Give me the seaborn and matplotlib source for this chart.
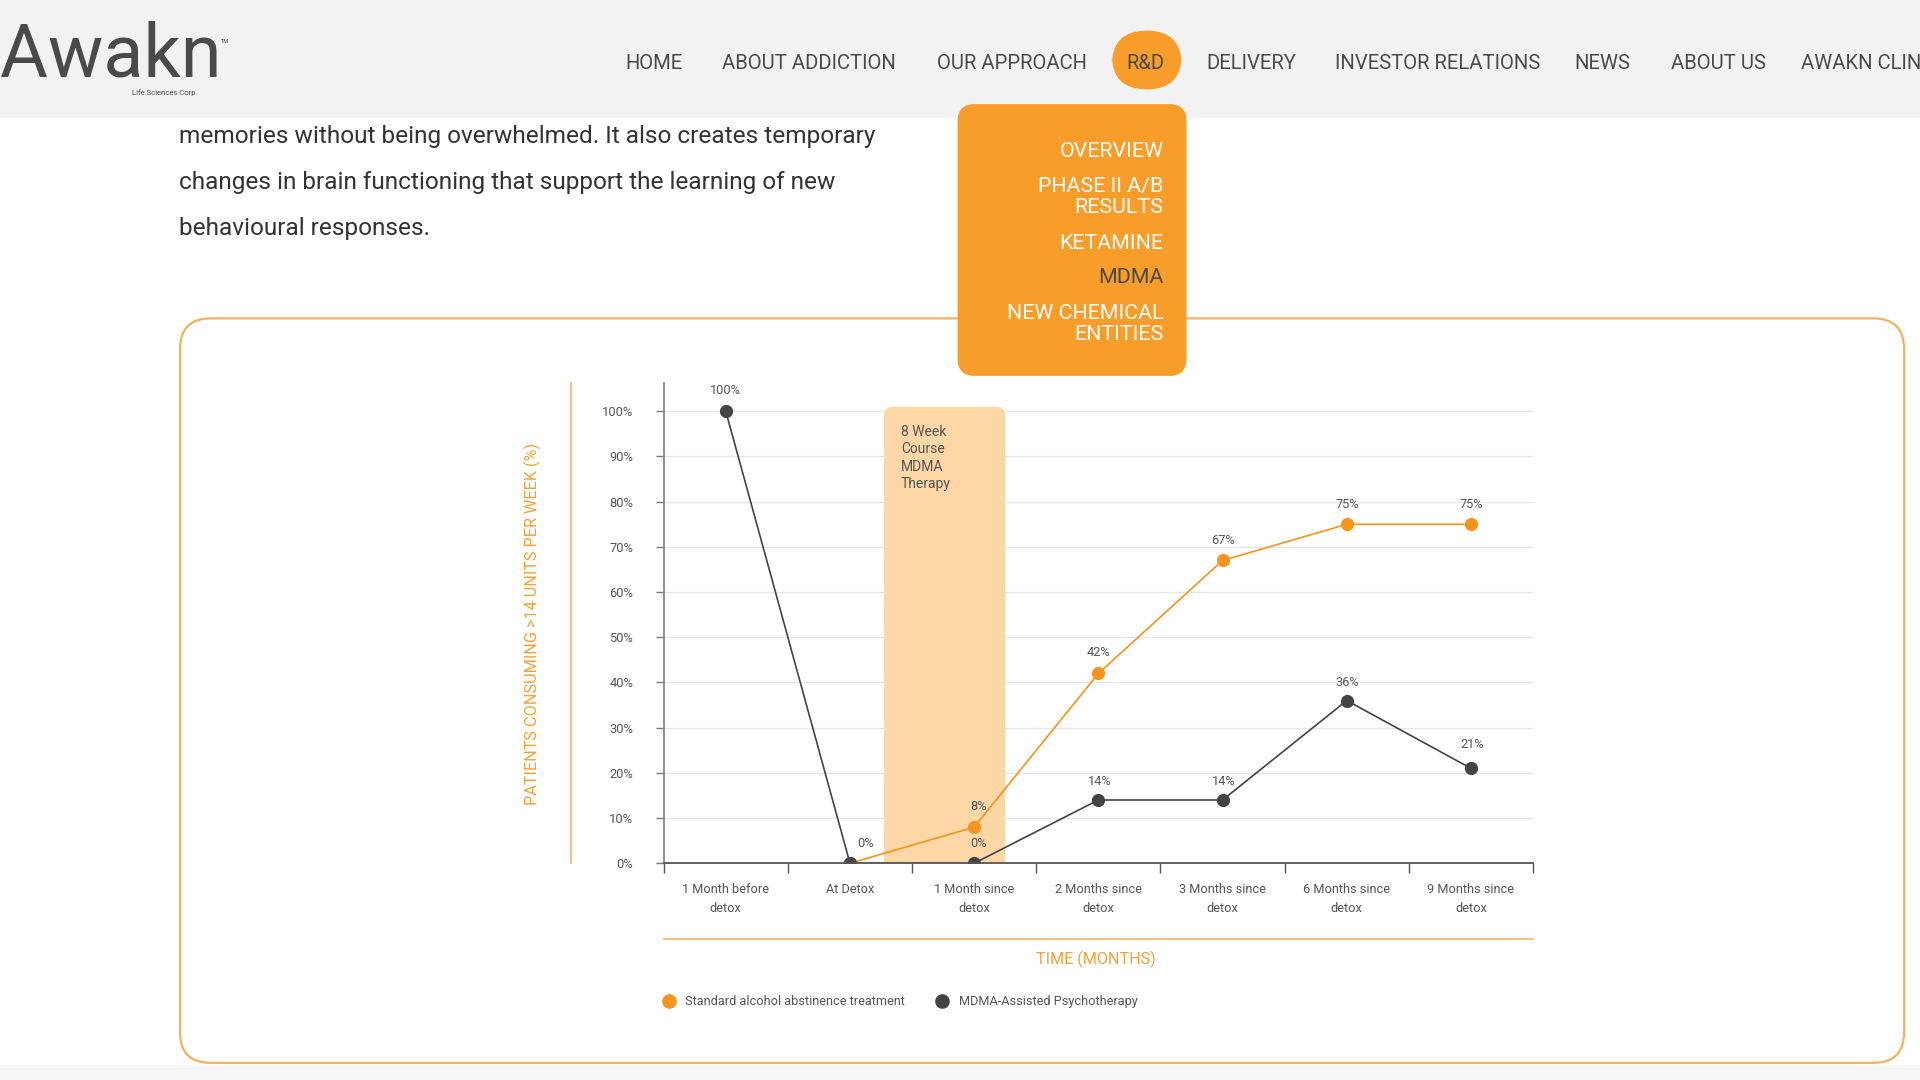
import matplotlib
matplotlib.use("Agg")
import matplotlib.pyplot as plt
import seaborn as sns
import pandas as pd
from matplotlib.patches import FancyBboxPatch, Rectangle
from matplotlib.lines import Line2D

# -----------------------------
# Data
# -----------------------------
time_labels = ["1 Month before\ndetox", "At Detox", "1 Month since\ndetox",
               "2 Months since\ndetox", "3 Months since\ndetox",
               "6 Months since\ndetox", "9 Months since\ndetox"]
standard_values = [None, 0, 8, 42, 67, 75, 75]
mdma_values = [100, 0, 0, 14, 14, 36, 21]
series_names = ["Standard alcohol abstinence treatment", "MDMA-Assisted Psychotherapy"]
y_ticks = [0, 10, 20, 30, 40, 50, 60, 70, 80, 90, 100]

nav_items = ["HOME", "ABOUT ADDICTION", "OUR APPROACH", "R&D", "DELIVERY",
             "INVESTOR RELATIONS", "NEWS", "ABOUT US", "AWAKN CLIN"]
dropdown_items = ["OVERVIEW", "PHASE II A/B\nRESULTS", "KETAMINE", "MDMA",
                  "NEW CHEMICAL\nENTITIES"]
paragraph = ["memories without being overwhelmed. It also creates temporary",
             "changes in brain functioning that support the learning of new",
             "behavioural responses."]

ORANGE = "#f7941d"
DARK = "#444444"
TEXT = "#555555"

# long form table for seaborn
rows = []
for i, v in enumerate(standard_values):
    if v is not None:
        rows.append({"pos": i, "value": v, "series": series_names[0]})
for i, v in enumerate(mdma_values):
    rows.append({"pos": i, "value": v, "series": series_names[1]})
df = pd.DataFrame(rows)

sns.set_theme(style="white")
plt.rcParams["font.family"] = ["Roboto", "DejaVu Sans"]

W, H = 1568, 882  # layout measured on the screenshot, scaled into the figure


def fx(x):
    return x / W


def fy(y):
    return 1 - y / H


fig = plt.figure(figsize=(19.2, 10.8), dpi=100)
fig.patch.set_facecolor("white")

# -----------------------------
# Page around the chart
# -----------------------------
fig.patches.append(Rectangle((0, fy(96)), 1, 96 / H, transform=fig.transFigure,
                             facecolor="#f2f2f2", edgecolor="none", zorder=0))
fig.patches.append(Rectangle((0, 0), 1, 12 / H, transform=fig.transFigure,
                             facecolor="#f6f6f6", edgecolor="none", zorder=0))
fig.text(fx(0), fy(46), "Awakn", fontsize=53, color="#4a4a4a", weight="normal",
         va="center", ha="left")
fig.text(fx(180), fy(34), "TM", fontsize=4, color="#4a4a4a", va="center")
fig.text(fx(108), fy(76), "Life Sciences Corp", fontsize=5.5, color="#4a4a4a",
         va="center")

nav_x = [511, 590, 765, 920, 985, 1090, 1286, 1365, 1471]
for name, x in zip(nav_items, nav_x):
    fig.text(fx(x), fy(51.5), name, fontsize=14.6, color="#4a4a4a", va="center",
             ha="left", zorder=5)
fig.patches.append(FancyBboxPatch((fx(908), fy(73)), 57 / W, 48 / H,
                                  boxstyle="round,pad=0,rounding_size=0.018",
                                  mutation_aspect=W / H, transform=fig.transFigure,
                                  facecolor="#f99d2a", edgecolor="none", zorder=3))

for k, line in enumerate(paragraph):
    fig.text(fx(146), fy(111.5 + 37.5 * k), line, fontsize=17.6, color="#333333",
             va="center", ha="left")

# chart card
fig.patches.append(FancyBboxPatch((fx(147), fy(868)), (1555 - 147) / W, (868 - 260) / H,
                                  boxstyle="round,pad=0,rounding_size=0.016",
                                  mutation_aspect=W / H, transform=fig.transFigure,
                                  facecolor="white", edgecolor="#f2b35a",
                                  linewidth=1.6, zorder=1))

# dropdown menu
fig.patches.append(FancyBboxPatch((fx(782), fy(307)), (969 - 782) / W, (307 - 85) / H,
                                  boxstyle="round,pad=0,rounding_size=0.009",
                                  mutation_aspect=W / H, transform=fig.transFigure,
                                  facecolor="#f99d2a", edgecolor="none", zorder=6))
drop_y = [124, 161, 199, 227, 264.5]
for name, y in zip(dropdown_items, drop_y):
    col = "#4a4a4a" if name == "MDMA" else "white"
    fig.text(fx(950), fy(y), name, fontsize=15.4, color=col, ha="right", va="center",
             linespacing=1.1, zorder=7)

# -----------------------------
# Chart
# -----------------------------
ax = fig.add_axes([fx(542), fy(705), (1252 - 542) / W, (705 - 313) / H])
ax.set_facecolor("none")
ax.set_zorder(4)

ax.set_xlim(-0.5, 6.5)
ax.set_ylim(0, 106.2)

for t in y_ticks[1:]:
    ax.axhline(t, color="#e6e6e6", lw=1.0, zorder=0)

# 8 week therapy band
band = FancyBboxPatch((1.275, -6), 0.975, 107, boxstyle="round,pad=0,rounding_size=0.07",
                      mutation_aspect=27, facecolor="#fdd7a6", edgecolor="none",
                      zorder=1, clip_on=True)
ax.add_patch(band)
ax.text(1.41, 97.0, "8 Week\nCourse\nMDMA\nTherapy", fontsize=10, color=TEXT,
        va="top", ha="left", linespacing=1.31, zorder=2)

sns.lineplot(data=df, x="pos", y="value", hue="series",
             palette={series_names[0]: ORANGE, series_names[1]: DARK},
             marker="o", markersize=9.5, markeredgewidth=0, linewidth=1.2,
             legend=False, ax=ax, zorder=3)

# value labels
offsets_std = {1: (0, 0), 2: (3, 15), 3: (0, 15), 4: (0, 14), 5: (0, 14), 6: (0, 14)}
offsets_mdma = {0: (0, 15), 1: (11, 14), 2: (3, 14), 3: (1, 13), 4: (1, 13),
                5: (0, 13), 6: (1, 17)}
for i, v in enumerate(standard_values):
    if v is None or i == 1:
        continue
    ax.annotate(f"{v}%", (i, v), xytext=offsets_std[i], textcoords="offset points",
                ha="center", va="center", fontsize=9.2, color=TEXT, zorder=5)
for i, v in enumerate(mdma_values):
    ax.annotate(f"{v}%", (i, v), xytext=offsets_mdma[i], textcoords="offset points",
                ha="center", va="center", fontsize=9.2, color=TEXT, zorder=5)

ax.set_yticks(y_ticks)
ax.set_yticklabels([f"{t}%" for t in y_ticks])
ax.set_xticks(range(len(time_labels)))
ax.set_xticklabels(time_labels, linespacing=1.6)
ax.set_xticks([i - 0.5 for i in range(len(time_labels) + 1)], minor=True)
ax.tick_params(axis="y", which="major", length=6, width=1, color="#777777",
               direction="out", pad=16, labelsize=9.3, labelcolor=TEXT, left=True)
ax.tick_params(axis="x", which="major", length=0, pad=14.5, labelsize=9.2,
               labelcolor=TEXT)
ax.tick_params(axis="x", which="minor", length=7, width=1, color="#555555",
               direction="out", bottom=True)
ax.set_xlabel("")
ax.set_ylabel("")

for s in ["top", "right"]:
    ax.spines[s].set_visible(False)
ax.spines["left"].set_color("#888888")
ax.spines["left"].set_linewidth(1.3)
ax.spines["bottom"].set_color("#555555")
ax.spines["bottom"].set_linewidth(1.3)
ax.spines["bottom"].set_zorder(6)

# axis decorations outside the plot area
fig.add_artist(Line2D([fx(466), fx(466)], [fy(313), fy(705)], color="#f5c27a", lw=1.5))
fig.add_artist(Line2D([fx(542), fx(1252)], [fy(767), fy(767)], color="#f5c27a", lw=1.5))
fig.text(fx(435), fy(509.5), "PATIENTS CONSUMING >14 UNITS PER WEEK (%)", rotation=90,
         fontsize=11.7, color="#f2a23a", ha="center", va="center")
fig.text(fx(895), fy(783.5), "TIME (MONTHS)", fontsize=11.6, color="#f2a23a",
         ha="center", va="center")

handles = [Line2D([], [], marker="o", ls="none", color=ORANGE, markersize=9.5),
           Line2D([], [], marker="o", ls="none", color=DARK, markersize=9.5)]
leg = fig.legend(handles, series_names, loc="center left",
                 bbox_to_anchor=(fx(541), fy(818)), ncol=2, frameon=False,
                 fontsize=9.2, handletextpad=0.8, columnspacing=2.4,
                 borderaxespad=0, borderpad=0, handlelength=1.0)
for t in leg.get_texts():
    t.set_color(TEXT)

fig.savefig("out.png", dpi=100)
plt.close(fig)
